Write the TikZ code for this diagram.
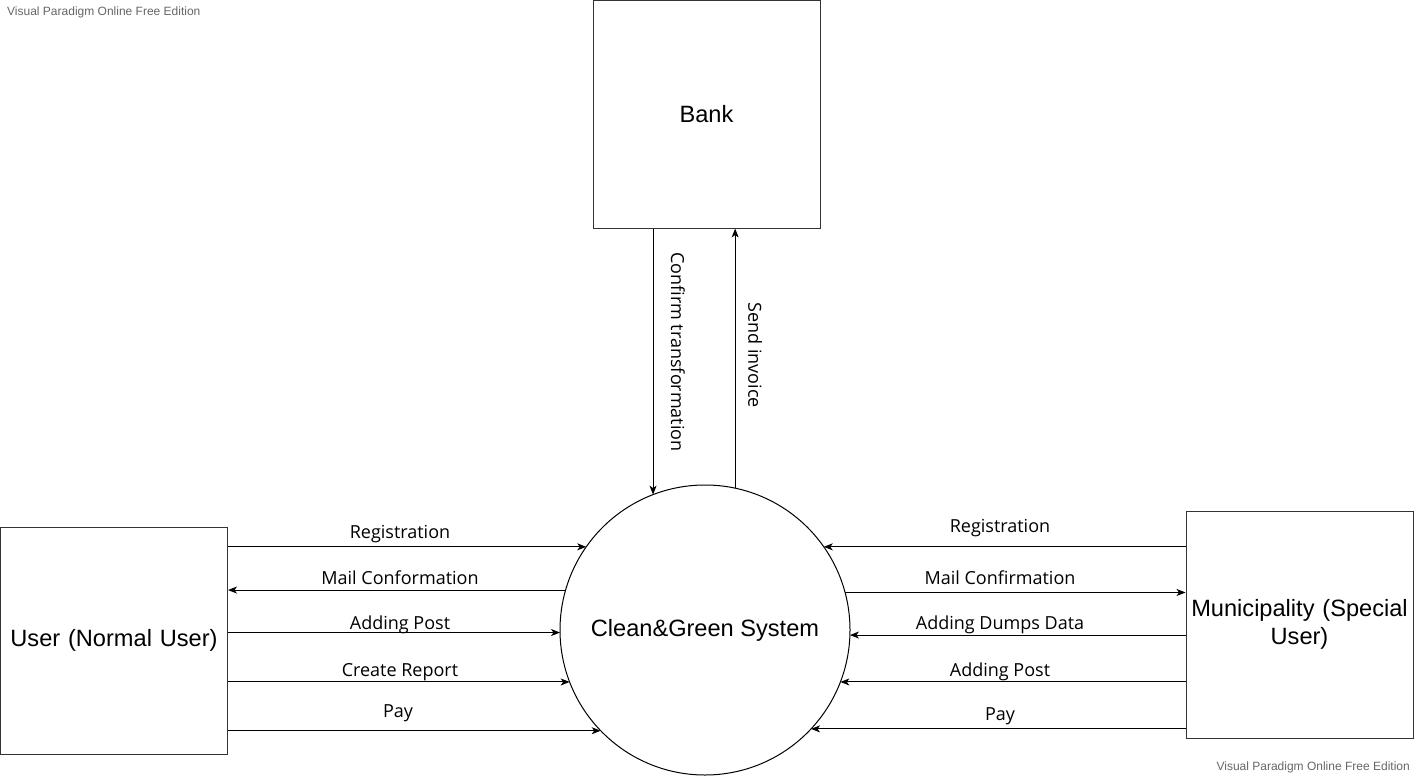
\documentclass[tikz,border=0pt]{standalone}
\usepackage{fontspec}
\setmainfont{Open Sans}
\newfontfamily\arialfont{Liberation Sans}
\usepackage{tikz}
\usetikzlibrary{arrows.meta}

\begin{document}
\begin{tikzpicture}
      [
        x=1pt,y=-1pt,
        >={Stealth[length=9pt,width=7pt,inset=2.5pt]},
        entity/.style={draw=black!80,line width=1pt,minimum width=227pt,minimum height=227pt,
          text width=226pt,align=center,inner sep=0pt,font=\arialfont\fontsize{23.6}{28}\selectfont},
        proc/.style={draw,circle,line width=1pt,minimum size=290pt,inner sep=0pt,outer sep=0pt,
          font=\arialfont\fontsize{23.6}{28}\selectfont},
        flow/.style={->,line width=1pt},
        lbl/.style={font=\fontsize{18}{21}\selectfont,inner sep=0pt},
        wmark/.style={font=\arialfont\fontsize{12}{14}\selectfont,text=black!60,inner sep=0pt}
      ]

      \useasboundingbox (0,0) rectangle (1415,776);

      \node[wmark,anchor=west] (WmTop) at (7,12) {Visual Paradigm Online Free Edition};
      \node[wmark,anchor=east] (WmBot) at (1410,767) {Visual Paradigm Online Free Edition};

      \node[entity] (Bank) at (706.5,114.5) {Bank};
      \node[entity] (User) at (114,640.5) {User (Normal User)};
      \node[entity] (Muni) at (1299.5,624.5) {Municipality (Special\\User)};
      \node[proc] (Sys) at (705,630) {Clean\&Green System};

      % bank
      \draw[flow] (Sys.111.44 |- Bank.south) -- (Sys.111.44)
        node[lbl,rotate=-90] (LConf) at (678,352) {Confirm transformation};
      \draw[flow] (Sys.78.06) -- (Sys.78.06 |- Bank.south)
        node[lbl,rotate=-90] (LSend) at (755,355) {Send invoice};

      % normal user
      \draw[flow] (Sys.145.57 -| User.east) -- (Sys.145.57)
        node[lbl] (LReg1) at (400,534) {Registration};
      \draw[flow] (Sys.164.8) -- (Sys.164.8 -| User.east)
        node[lbl] (LMail1) at (400,578) {Mail Conformation};
      \draw[flow] (Sys.181.98 -| User.east) -- (Sys.181.98)
        node[lbl] (LPost1) at (400,625) {Adding Post};
      \draw[flow] (Sys.201.0 -| User.east) -- (Sys.201.0)
        node[lbl] (LRep) at (400,672) {Create Report};
      \draw[flow] (Sys.224.15 -| User.east) -- (Sys.224.15)
        node[lbl] (LPay1) at (398,713) {Pay};

      % municipality
      \draw[flow] (Sys.35.4 -| Muni.west) -- (Sys.35.4)
        node[lbl] (LReg2) at (1000,528) {Registration};
      \draw[flow] (Sys.15.6) -- (Sys.15.6 -| Muni.west)
        node[lbl] (LMail2) at (1000,578) {Mail Confirmation};
      \draw[flow] (Sys.-2.77 -| Muni.west) -- (Sys.-2.77)
        node[lbl] (LDump) at (1000,625) {Adding Dumps Data};
      \draw[flow] (Sys.-21.86 -| Muni.west) -- (Sys.-21.86)
        node[lbl] (LPost2) at (1000,672) {Adding Post};
      \draw[flow] (Sys.-43.06 -| Muni.west) -- (Sys.-43.06)
        node[lbl] (LPay2) at (1000,716) {Pay};
    \end{tikzpicture}
\end{document}
